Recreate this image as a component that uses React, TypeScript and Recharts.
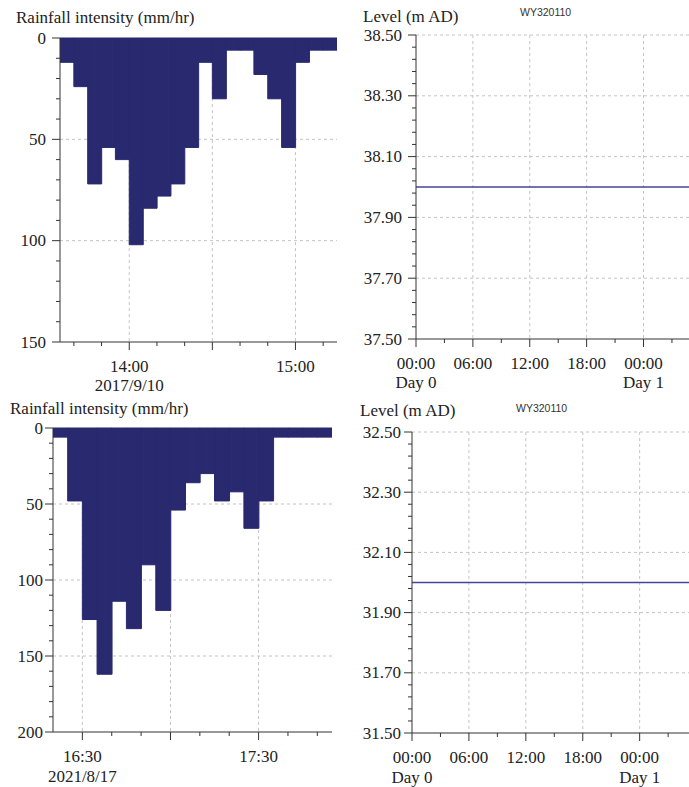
import { ComposedChart, Bar, Line, XAxis, YAxis, CartesianGrid } from "recharts";

// rainfall, event 1 (5-minute blocks, start times)
const rainTimesA = ["13:35", "13:40", "13:45", "13:50", "13:55", "14:00", "14:05", "14:10", "14:15", "14:20",
  "14:25", "14:30", "14:35", "14:40", "14:45", "14:50", "14:55", "15:00", "15:05", "15:10"];
const rainValuesA = [12, 24, 72, 54, 60, 102, 84, 78, 72, 54, 12, 30, 6, 6, 18, 30, 54, 12, 6, 6];
const rainDomainA = ["13:35", "15:15"];
const rainTicksA = ["13:40", "13:50", "14:00", "14:10", "14:20", "14:30", "14:40", "14:50", "15:00", "15:10"];
const rainGridA = ["14:00", "14:30", "15:00"];
const rainLabelsA = ["14:00", "15:00"];
const rainDatesA = ["2017/9/10", ""];
const rainYTicksA = [0, 10, 20, 30, 40, 50, 60, 70, 80, 90, 100, 110, 120, 130, 140, 150];
const rainYLabelsA = [0, 50, 100, 150];

// rainfall, event 2
const rainTimesB = ["16:20", "16:25", "16:30", "16:35", "16:40", "16:45", "16:50", "16:55", "17:00", "17:05",
  "17:10", "17:15", "17:20", "17:25", "17:30", "17:35", "17:40", "17:45", "17:50"];
const rainValuesB = [6, 48, 126, 162, 114, 132, 90, 120, 54, 36, 30, 48, 42, 66, 48, 6, 6, 6, 6];
const rainDomainB = ["16:20", "17:55"];
const rainTicksB = ["16:30", "16:40", "16:50", "17:00", "17:10", "17:20", "17:30", "17:40", "17:50"];
const rainGridB = ["16:30", "17:00", "17:30"];
const rainLabelsB = ["16:30", "17:30"];
const rainDatesB = ["2021/8/17", ""];
const rainYTicksB = [0, 10, 20, 30, 40, 50, 60, 70, 80, 90, 100, 110, 120, 130, 140, 150, 160, 170, 180, 190, 200];
const rainYLabelsB = [0, 50, 100, 150, 200];

// water level (hours from Day 0 00:00)
const levelHours = [0, 6, 12, 18, 24, 30];
const levelValuesA = [38.0, 38.0, 38.0, 38.0, 38.0, 38.0];
const levelValuesB = [32.0, 32.0, 32.0, 32.0, 32.0, 32.0];
const levelXTicks = [0, 3, 6, 9, 12, 15, 18, 21, 24, 27];
const levelXLabelHours = [0, 6, 12, 18, 24];
const levelXLabels = ["00:00", "06:00", "12:00", "18:00", "00:00"];
const levelDayLabels = ["Day 0", "", "", "", "Day 1"];
const levelYLabelsA = [37.5, 37.7, 37.9, 38.1, 38.3, 38.5];
const levelYLabelsB = [31.5, 31.7, 31.9, 32.1, 32.3, 32.5];

const AXIS = "#333";
const GRID = "#c4c4c4";
const TEXT = "#222";
const SERIF = "'Liberation Serif', 'Times New Roman', serif";
const BAR = "#29296f";
const LINE = "#44449a";

const toMin = (t: string) => {
  const [h, m] = t.split(":").map(Number);
  return h * 60 + m;
};
const near = (a: number, b: number) => Math.abs(a - b) < 1e-6;

const makeXTick = (majors: number[], labelAt: number[], labels: string[], sub: string[], subDy: number) => (props: any) => {
  const { x, y, payload } = props;
  const v = payload.value;
  const major = majors.some((m) => near(m, v));
  const li = labelAt.findIndex((m) => near(m, v));
  return (
    <g>
      <line x1={x} x2={x} y1={y} y2={y + (major ? 8 : 4)} stroke={AXIS} />
      {li >= 0 && (
        <text x={x} y={y + 30} textAnchor="middle" fontFamily={SERIF} fontSize={17} fill={TEXT}>
          {labels[li]}
        </text>
      )}
      {li >= 0 && sub[li] && (
        <text x={x} y={y + subDy} textAnchor="middle" fontFamily={SERIF} fontSize={17} fill={TEXT}>
          {sub[li]}
        </text>
      )}
    </g>
  );
};

const makeYTick = (labels: number[], digits: number, gap: number) => (props: any) => {
  const { x, y, payload } = props;
  const v = payload.value;
  const isLabel = labels.some((m) => near(m, v));
  return (
    <g>
      <line x1={x - (isLabel ? 8 : 4)} x2={x} y1={y} y2={y} stroke={AXIS} />
      {isLabel && (
        <text x={x - gap} y={y} textAnchor="end" dominantBaseline="central" fontFamily={SERIF} fontSize={17} fill={TEXT}>
          {v.toFixed(digits)}
        </text>
      )}
    </g>
  );
};

interface Box {
  left: number;
  top: number;
  width: number;
  height: number;
  // plot area edges, in the chart's own pixels
  margin: { top: number; right: number; bottom: number; left: number };
}

// axes need a non-zero size to be drawn; take 1px from the margins for them
const chartMargin = (m: Box["margin"]) => ({ top: m.top, right: m.right, bottom: m.bottom - 1, left: m.left - 1 });

function RainChart(p: {
  box: Box;
  times: string[];
  values: number[];
  domain: string[];
  ticks: string[];
  grid: string[];
  labels: string[];
  dates: string[];
  yTicks: number[];
  yLabels: number[];
  gap: number;
  subDy: number;
}) {
  // bars centred on the middle of each 5-minute block
  const data = p.times.map((t, i) => ({ t: toMin(t) + 2.5, rain: p.values[i] }));
  const yMax = p.yTicks[p.yTicks.length - 1];
  const gridY = p.yLabels.filter((v) => v > 0 && v < yMax);
  return (
    <div style={{ position: "absolute", left: p.box.left, top: p.box.top }}>
      <ComposedChart width={p.box.width} height={p.box.height} data={data} margin={chartMargin(p.box.margin)} barCategoryGap={0}>
        <CartesianGrid
          stroke={GRID}
          strokeDasharray="3 3"
          horizontalValues={gridY}
          verticalValues={p.grid.map(toMin)}
        />
        <XAxis
          dataKey="t"
          type="number"
          domain={p.domain.map(toMin)}
          allowDataOverflow
          ticks={p.ticks.map(toMin)}
          interval={0}
          height={1}
          tickSize={0}
          tickMargin={0}
          tickLine={false}
          axisLine={{ stroke: AXIS }}
          tick={makeXTick(p.grid.map(toMin), p.labels.map(toMin), p.labels, p.dates, p.subDy)}
        />
        <YAxis
          type="number"
          reversed
          domain={[0, yMax]}
          ticks={p.yTicks}
          interval={0}
          width={1}
          tickSize={0}
          tickMargin={0}
          tickLine={false}
          axisLine={{ stroke: AXIS }}
          tick={makeYTick(p.yLabels, 0, p.gap)}
        />
        <Bar dataKey="rain" fill={BAR} stroke={BAR} strokeWidth={1} isAnimationActive={false} />
      </ComposedChart>
    </div>
  );
}

function LevelChart(p: { box: Box; values: number[]; yLabels: number[]; xMax: number; gap: number; subDy: number }) {
  const data = levelHours.map((h, i) => ({ h, level: p.values[i] }));
  const lo = p.yLabels[0];
  const hi = p.yLabels[p.yLabels.length - 1];
  // 4 minor ticks between each labelled value
  const yTicks: number[] = [];
  for (let i = 0; i < p.yLabels.length - 1; i++) {
    const step = (p.yLabels[i + 1] - p.yLabels[i]) / 5;
    for (let k = 0; k < 5; k++) yTicks.push(+(p.yLabels[i] + step * k).toFixed(4));
  }
  yTicks.push(hi);
  return (
    <div style={{ position: "absolute", left: p.box.left, top: p.box.top }}>
      <ComposedChart width={p.box.width} height={p.box.height} data={data} margin={chartMargin(p.box.margin)}>
        <CartesianGrid
          stroke={GRID}
          strokeDasharray="3 3"
          horizontalValues={p.yLabels.filter((v) => v > lo)}
          verticalValues={levelXLabelHours.filter((v) => v > 0)}
        />
        <XAxis
          dataKey="h"
          type="number"
          domain={[0, p.xMax]}
          allowDataOverflow
          ticks={levelXTicks}
          interval={0}
          height={1}
          tickSize={0}
          tickMargin={0}
          tickLine={false}
          axisLine={{ stroke: AXIS }}
          tick={makeXTick(levelXLabelHours, levelXLabelHours, levelXLabels, levelDayLabels, p.subDy)}
        />
        <YAxis
          type="number"
          domain={[lo, hi]}
          allowDataOverflow
          ticks={yTicks}
          interval={0}
          width={1}
          tickSize={0}
          tickMargin={0}
          tickLine={false}
          axisLine={{ stroke: AXIS }}
          tick={makeYTick(p.yLabels, 2, p.gap)}
        />
        <Line dataKey="level" stroke={LINE} strokeWidth={1.3} dot={false} isAnimationActive={false} />
      </ComposedChart>
    </div>
  );
}

export default function App() {
  return (
    <>
      <style>{`html, body { margin: 0; padding: 0; overflow: hidden; background: #fff; }`}</style>
      <div style={{ position: "absolute", left: 0, top: 0, width: 689, height: 787, background: "#fff", overflow: "hidden" }}>
        <RainChart
          box={{ left: 0, top: 0, width: 345, height: 395, margin: { top: 38, right: 8, bottom: 53, left: 60 } }}
          times={rainTimesA}
          values={rainValuesA}
          domain={rainDomainA}
          ticks={rainTicksA}
          grid={rainGridA}
          labels={rainLabelsA}
          dates={rainDatesA}
          yTicks={rainYTicksA}
          yLabels={rainYLabelsA}
          gap={14}
          subDy={49}
        />
        <LevelChart
          box={{ left: 345, top: 0, width: 344, height: 395, margin: { top: 35, right: 0, bottom: 56, left: 71 } }}
          values={levelValuesA}
          yLabels={levelYLabelsA}
          xMax={28.8}
          gap={14}
          subDy={49}
        />
        <RainChart
          box={{ left: 0, top: 395, width: 345, height: 392, margin: { top: 33, right: 13, bottom: 55, left: 53 } }}
          times={rainTimesB}
          values={rainValuesB}
          domain={rainDomainB}
          ticks={rainTicksB}
          grid={rainGridB}
          labels={rainLabelsB}
          dates={rainDatesB}
          yTicks={rainYTicksB}
          yLabels={rainYLabelsB}
          gap={10}
          subDy={50}
        />
        <LevelChart
          box={{ left: 345, top: 395, width: 344, height: 392, margin: { top: 37, right: 0, bottom: 54, left: 67 } }}
          values={levelValuesB}
          yLabels={levelYLabelsB}
          xMax={29.2}
          gap={11}
          subDy={50}
        />
        <svg width={689} height={787} style={{ position: "absolute", left: 0, top: 0, pointerEvents: "none" }}>
          <g fontFamily={SERIF} fontSize={17} fill={TEXT}>
            <text x={16} y={23}>Rainfall intensity (mm/hr)</text>
            <text x={363} y={22}>Level (m AD)</text>
            <text x={10} y={414}>Rainfall intensity (mm/hr)</text>
            <text x={360} y={416}>Level (m AD)</text>
          </g>
          <g fontFamily="'Liberation Sans', Arial, sans-serif" fontSize={10.5} fill="#333">
            <text x={520} y={16}>WY320110</text>
            <text x={516} y={412}>WY320110</text>
          </g>
        </svg>
      </div>
    </>
  );
}
